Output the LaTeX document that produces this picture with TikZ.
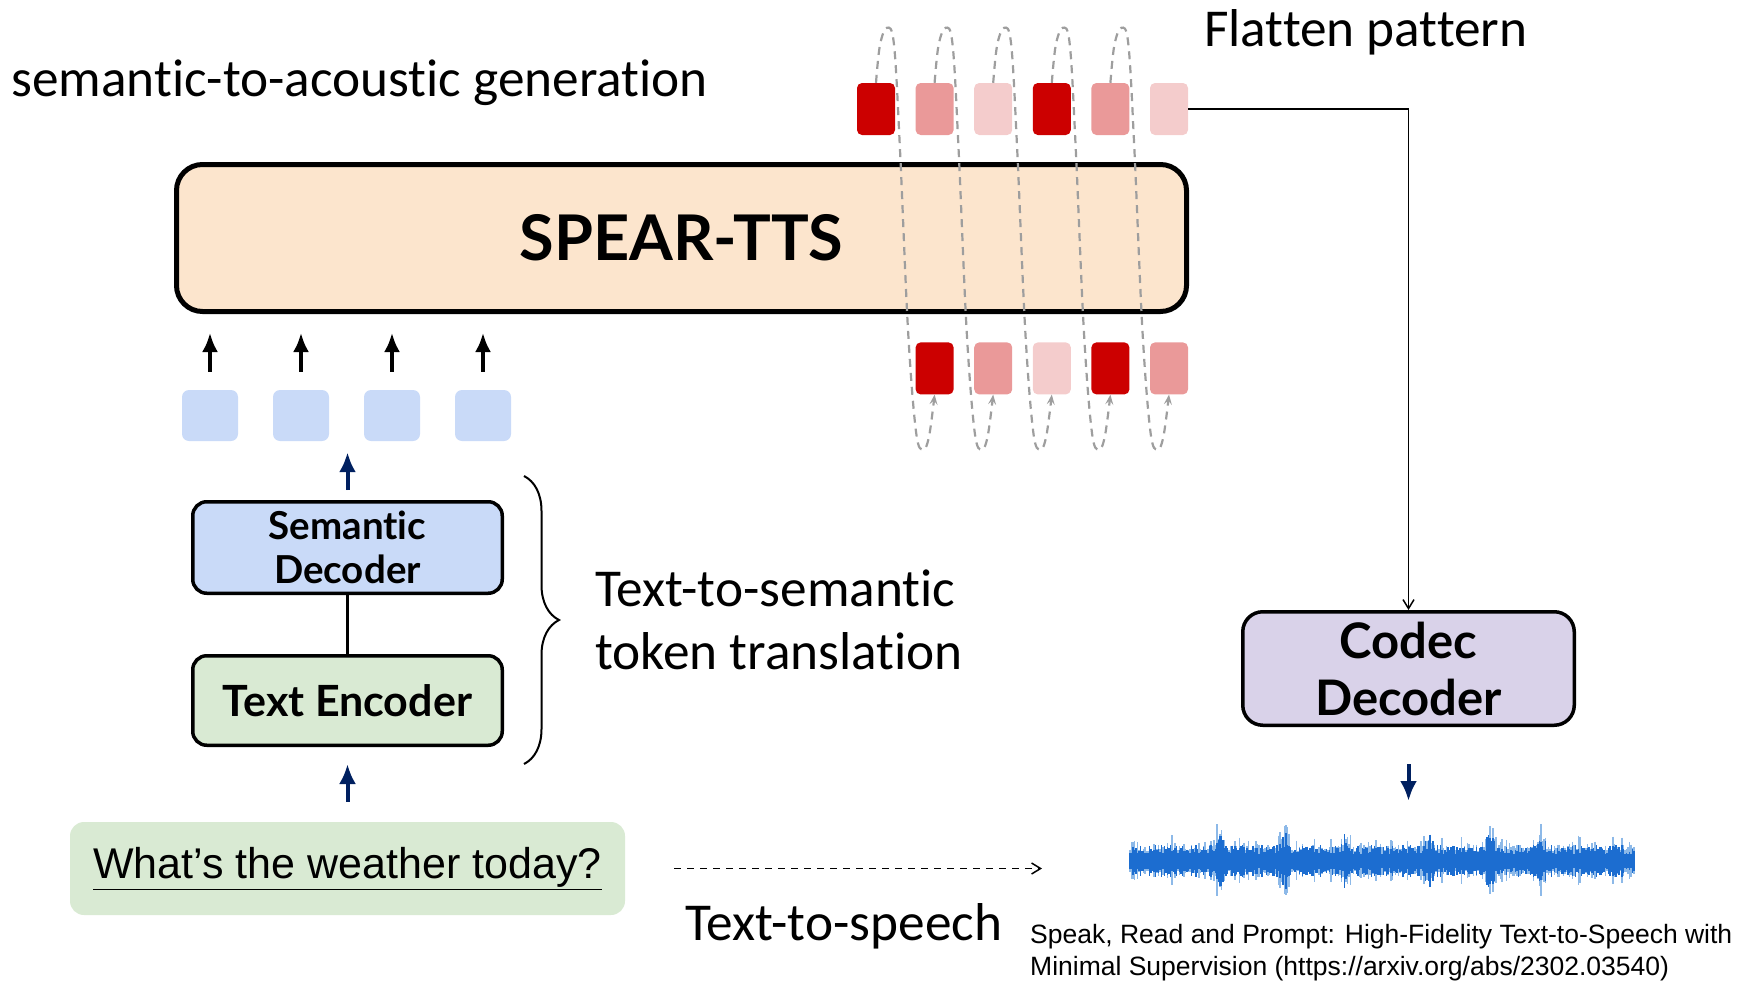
\documentclass[tikz,border=0pt]{standalone}
\usepackage{fontspec}
\setmainfont{Carlito}[RawFeature={-liga;-calt;-dlig}]
\newfontfamily\latofont{Lato}[RawFeature={-liga;-calt;-dlig}]
\newfontfamily\arialfont{Liberation Sans}
\usetikzlibrary{arrows.meta,positioning,calc,decorations.pathreplacing}

\definecolor{tokdark}{HTML}{CC0000}
\definecolor{tokmid}{HTML}{EA9999}
\definecolor{toklight}{HTML}{F4CCCC}
\definecolor{semblue}{HTML}{C9DAF8}
\definecolor{encgreen}{HTML}{D9EAD3}
\definecolor{spearfill}{HTML}{FCE5CD}
\definecolor{codecfill}{HTML}{D9D2E9}
\definecolor{navy}{HTML}{002060}
\definecolor{loopgray}{HTML}{9E9E9E}
\definecolor{wavedark}{HTML}{1C6DD0}
\definecolor{wavelight}{HTML}{8DB9E8}

\begin{document}
\begin{tikzpicture}[x=1pt,y=-1pt,
  token/.style={minimum width=38pt,minimum height=52pt,inner sep=0pt,rounded corners=5pt},
  semtok/.style={fill=semblue,minimum width=56pt,minimum height=51pt,inner sep=0pt,rounded corners=7pt},
  block/.style={draw,line width=3.5pt,rounded corners=14pt,align=center,inner sep=0pt},
  note/.style={inner sep=0pt,font=\fontsize{53.3}{63}\selectfont},
  tokarrow/.style={line width=3.5pt,-{Latex[length=19pt,width=16pt]}},
  navyarrow/.style={draw=navy,fill=navy,line width=4pt,-{Latex[length=20pt,width=17pt]}},
  flatline/.style={line width=1.5pt,-{Straight Barb[length=9pt,width=11pt]}},
  loopline/.style={draw=loopgray,line width=2.2pt,dash pattern=on 8pt off 6pt,-{Stealth[length=10pt,width=8pt,inset=4pt]}},
]
\useasboundingbox (0,0) rectangle (1737,982);

% captions
\node[note,anchor=base west] (s2a) at (11,96) {semantic-to-acoustic generation};
\node[note,anchor=base west] (flat) at (1204,47) {Flatten pattern};

% the model
\node[block,line width=5pt,rounded corners=26pt,fill=spearfill,minimum width=1010pt,minimum height=147pt,
  font=\latofont\bfseries\fontsize{63}{68}\selectfont] (spear) at (681.5,238) {SPEAR-TTS};

% acoustic tokens, flattened
\foreach \c [count=\i] in {tokdark,tokmid,toklight,tokdark,tokmid,toklight}
  \node[token,fill=\c] (t\i) at (876+58.6*\i-58.6,109) {};
\foreach \c [count=\i from 2] in {tokdark,tokmid,toklight,tokdark,tokmid}
  \node[token,fill=\c,below=207pt of t\i] (b\i) {};

\foreach \i [count=\j from 2] in {1,...,5}
  \draw[loopline] plot[smooth,tension=0.6] coordinates {(t\i.north) ($(t\i.north)+(4,-38)$)
    ($(t\i.north)+(11,-55)$) ($(t\i.north)+(18,-38)$) ($(t\i.north)+(24,67)$) ($(t\i.north)+(32,247)$)
    ($(b\j.south)+(-18.6,37)$) ($(b\j.south)+(-11.6,55)$) ($(b\j.south)+(-5.6,42)$) (b\j.south)};

% semantic tokens
\foreach \i in {1,...,4}{
  \node[semtok] (s\i) at (210+91*\i-91,415.5) {};
  \draw[tokarrow,shorten <=18pt,shorten >=19pt] (s\i.north) -- (s\i.north |- spear.south);
}

% text-to-semantic stack
\node[block,fill=semblue,minimum width=309.5pt,minimum height=91.5pt,
  font=\latofont\bfseries\fontsize{38.5}{44}\selectfont] (semdec) at (347.5,547.5) {Semantic\\Decoder};
\node[block,fill=encgreen,minimum width=309.5pt,minimum height=89.5pt,
  font=\latofont\bfseries\fontsize{43}{50}\selectfont] (textenc) at (347.5,700.5) {Text Encoder};
\draw[line width=3.5pt] (semdec) -- (textenc);
\draw[navyarrow,shorten <=10pt,shorten >=11pt] (semdec.north) -- (semdec.north |- s1.south);

\draw[decorate,decoration={brace,amplitude=35pt},line width=2pt]
  ([shift={(20,-24)}]semdec.north east) -- ([shift={(20,17)}]textenc.south east);
\node[note,anchor=base west,align=left] (t2s) at (595,669) {Text-to-semantic\\token translation};

% input text
\node[fill=encgreen,rounded corners=14pt,minimum width=555pt,minimum height=93pt,
  font=\arialfont\fontsize{43}{50}\selectfont] (query) at (347.5,868.5) {\underline{What’s the weather today?}};
\draw[navyarrow,shorten <=20pt,shorten >=17pt] (query.north) -- (textenc.south);

% codec decoder
\node[block,fill=codecfill,minimum width=331.5pt,minimum height=113.5pt,rounded corners=20pt,
  font=\latofont\bfseries\fontsize{49}{57}\selectfont] (codec) at (1408.5,668.5) {Codec\\Decoder};
\draw[flatline] (t6.east) -| (codec.north);

% waveform
\coordinate (wave) at (1382,861);
\coordinate (wavel) at (1130,861);
\pgfmathsetseed{42}
\foreach \x in {1130,1131.5,...,1634}{
  \pgfmathsetmacro\spike{max(0,1-abs(\x-1219)/7)+max(0,1-abs(\x-1285)/7)+max(0,1-abs(\x-1346)/6)
    +max(0,1-abs(\x-1429)/7)+max(0,1-abs(\x-1490)/8)+max(0,1-abs(\x-1541)/7)}
  \pgfmathsetmacro\amp{(10+16*rnd*rnd)*(1+1.1*\spike)}
  \draw[wavelight,line width=1.3pt] (\x,861-\amp) -- (\x,861+\amp*0.95);
  \pgfmathsetmacro\amp{(7+9*rnd)*(1+0.9*\spike)}
  \draw[wavedark,line width=1.3pt] (\x,861-\amp) -- (\x,861+\amp);
}
\draw[navyarrow,shorten <=37pt,shorten >=60pt] (codec.south) -- (codec.south |- wave);

% text-to-speech
\draw[line width=1.5pt,dash pattern=on 7pt off 6pt,-{Straight Barb[length=9pt,width=11pt]},shorten <=49pt,shorten >=88pt]
  (query.east) -- (query.east -| wavel);
\node[note,anchor=base west] (tts) at (685,940) {Text-to-speech};
\node[inner sep=0pt,anchor=base west,align=left,font=\arialfont\fontsize{26.5}{32}\selectfont] (cite) at (1030,975)
  {Speak, Read and Prompt: High-Fidelity Text-to-Speech with\\Minimal Supervision (https://arxiv.org/abs/2302.03540)};
\end{tikzpicture}
\end{document}
